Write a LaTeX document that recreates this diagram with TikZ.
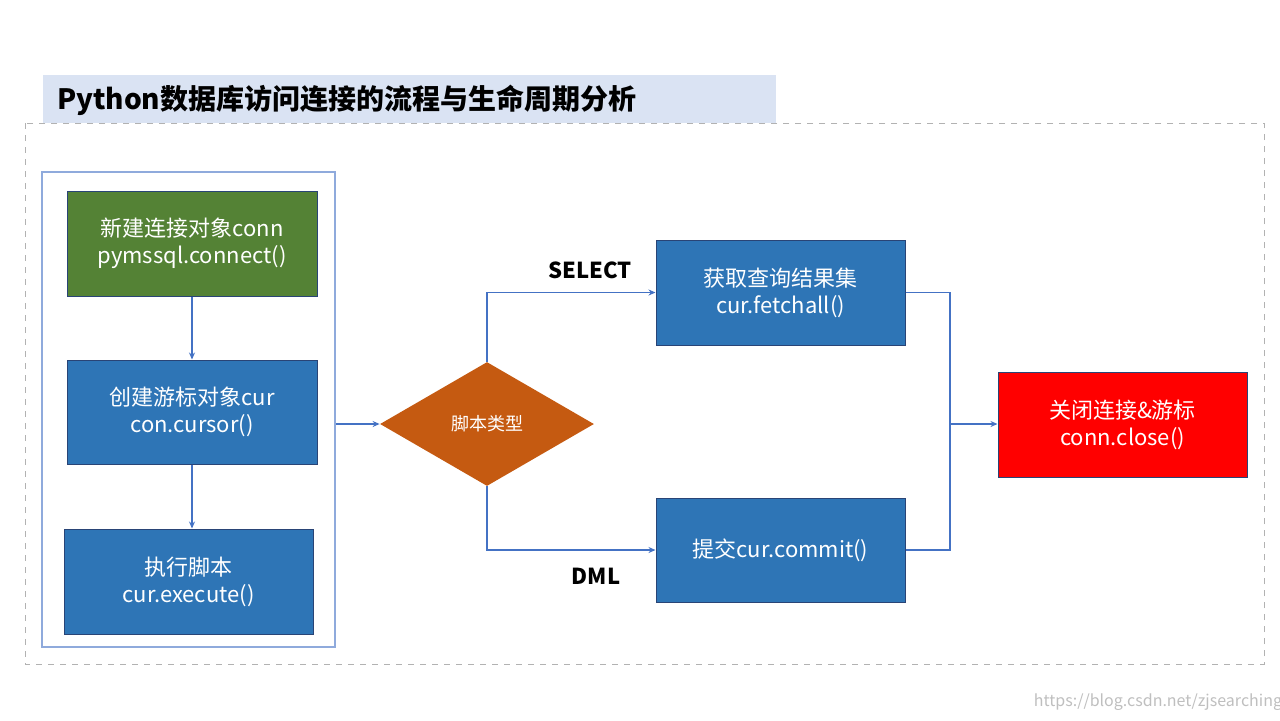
\documentclass[tikz,border=0pt]{standalone}
\usepackage{fontspec}
\setmainfont{Noto Sans CJK SC}
\usetikzlibrary{shapes.geometric,arrows.meta}
\definecolor{titlebg}{RGB}{218,227,243}
\definecolor{bgreen}{RGB}{84,130,53}
\definecolor{bblue}{RGB}{46,117,182}
\definecolor{borange}{RGB}{197,90,17}
\definecolor{frame}{RGB}{143,170,220}
\definecolor{arr}{RGB}{68,114,196}
\begin{document}
\begin{tikzpicture}[x=0.5pt,y=-0.5pt,
  box/.style={draw=arr!60!black,line width=0.5pt,text=white,font=\fontsize{11}{13.5}\selectfont,align=center,inner sep=0},
  con/.style={draw=arr,line width=0.6pt,-{Stealth[length=3.5pt,width=3pt]}},
  lab/.style={font=\bfseries\fontsize{11}{13}\selectfont}]
\useasboundingbox (0,0) rectangle (1280,720);
\fill[white] (0,0) rectangle (1280,720);
\draw[gray!60,dashed,line width=0.5pt] (25,123) rectangle (1264,664);
\fill[titlebg] (43,75) rectangle (776,123);
\node[anchor=west,font=\bfseries\fontsize{14}{16}\selectfont] (title) at (50,100) {Python数据库访问连接的流程与生命周期分析};
\node[draw=frame,line width=0.8pt,minimum width=146.5pt,minimum height=237.5pt] (frm) at (188.5,409.5) {};
\node[box,fill=bgreen,minimum width=125pt,minimum height=52.5pt] (b1) at (192,243.5) {新建连接对象conn\\pymssql.connect()};
\node[box,fill=bblue,minimum width=125pt,minimum height=52pt] (b2) at (192,412) {创建游标对象cur\\con.cursor()};
\node[box,fill=bblue,minimum width=124.5pt,minimum height=52.5pt] (b3) at (188.5,581.5) {执行脚本\\cur.execute()};
\node[diamond,fill=borange,aspect=1.72,minimum width=107pt,minimum height=62pt,inner sep=0,text=white,font=\fontsize{9}{11}\selectfont] (d) at (487,424) {脚本类型};
\node[box,fill=bblue,minimum width=124.5pt,minimum height=52.5pt] (b4) at (780.5,292.5) {获取查询结果集\\cur.fetchall()};
\node[box,fill=bblue,minimum width=124.5pt,minimum height=52pt] (b5) at (780.5,550) {提交cur.commit()};
\node[box,fill=red,minimum width=124.5pt,minimum height=52.5pt] (b6) at (1122.5,424.5) {关闭连接\&游标\\conn.close()};
\coordinate (j) at (950,424);
\draw[con] (b1.south) -- (b2.south|-b2.north);
\draw[con] (b2.south) -- (b2.south|-b3.north);
\draw[con] (frm.east|-d.west) -- (d.west);
\draw[con] (d.north) |- (b4.west);
\draw[con] (d.south) |- (b5.west);
\draw[draw=arr,line width=0.6pt] (b4.east) -| (j);
\draw[draw=arr,line width=0.6pt] (b5.east) -| (j);
\draw[con] (j) -- (b6.west|-j);
\node[lab] (sel) at (590,270) {SELECT};
\node[lab] (dml) at (596,576) {DML};
\node[text=gray!50,font=\fontsize{8}{9}\selectfont] (wm) at (1158,702) {https://blog.csdn.net/zjsearching};
\end{tikzpicture}
\end{document}
